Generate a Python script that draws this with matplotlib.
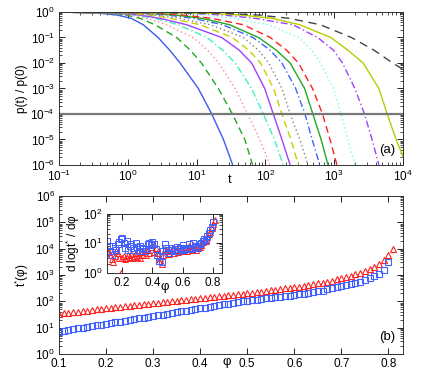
import numpy as np
import matplotlib
matplotlib.use("Agg")
import matplotlib.pyplot as plt
from matplotlib.ticker import LogLocator, NullFormatter, FixedLocator
import matplotlib.transforms as mtransforms

plt.rcParams['font.family'] = ['Liberation Sans', 'DejaVu Sans']
plt.rcParams['mathtext.fontset'] = 'custom'
plt.rcParams['mathtext.rm'] = 'Liberation Sans'
plt.rcParams['mathtext.it'] = 'Liberation Sans:italic'
plt.rcParams['font.size'] = 8.5

# ---------------- panel (a) data: log10 t at which each curve reaches the log10 p levels
logp_levels = [0, -0.05, -0.12, -0.25, -0.5, -1, -1.5, -2, -3, -4, -5, -6]
c_blue_solid   = [-1, -0.40, -0.15, 0.05, 0.225, 0.44, 0.61, 0.76, 1.025, 1.22, 1.39, 1.525]
c_green_dash   = [-1, -0.30, -0.02, 0.18, 0.395, 0.71, 0.91, 1.07, 1.316, 1.52, 1.70, 1.815]
c_pink_dot     = [-1, -0.25, 0.05, 0.28, 0.565, 0.95, 1.16, 1.32, 1.56, 1.74, 1.92, 2.067]
c_cyan_dd      = [-1, -0.20, 0.12, 0.40, 0.735, 1.15, 1.38, 1.56, 1.80, 1.97, 2.13, 2.26]
c_purple_solid = [-1, -0.15, 0.17, 0.47, 0.855, 1.365, 1.62, 1.80, 1.99, 2.115, 2.24, 2.36]
c_yellow_dash  = [-1, -0.05, 0.30, 0.62, 1.05, 1.52, 1.76, 1.93, 2.12, 2.24, 2.37, 2.48]
c_gray_dot     = [-1, 0.05, 0.40, 0.75, 1.20, 1.68, 1.90, 2.05, 2.24, 2.36, 2.50, 2.62]
c_blue_dd      = [-1, 0.20, 0.58, 0.95, 1.38, 1.82, 2.07, 2.24, 2.44, 2.575, 2.68, 2.79]
c_green_solid  = [-1, 0.30, 0.70, 1.08, 1.48, 1.90, 2.16, 2.36, 2.57, 2.69, 2.81, 2.91]
c_red_dash     = [-1, 0.40, 0.80, 1.22, 1.68, 2.07, 2.31, 2.48, 2.685, 2.83, 2.94, 3.04]
c_cyan_dot     = [-1, 0.60, 1.10, 1.55, 2.05, 2.48, 2.68, 2.80, 2.99, 3.10, 3.20, 3.30]
c_purple_dd    = [-1, 0.90, 1.40, 1.85, 2.40, 2.76, 2.99, 3.12, 3.30, 3.44, 3.55, 3.65]
c_yg_solid     = [-1, 1.20, 1.65, 2.10, 2.50, 2.95, 3.20, 3.42, 3.65, 3.77, 3.90, 4.05]
c_black_dash   = [-1, 1.40, 1.90, 2.35, 2.80, 3.25, 3.58, 3.85, 4.45]

threshold = 1e-4

curves = [
    (c_blue_solid,   '#3a5cf5', '-'),
    (c_green_dash,   '#22a822', (0, (5, 3))),
    (c_pink_dot,     '#ff8c8c', (0, (1, 2))),
    (c_cyan_dd,      '#3ef0c0', (0, (5, 2, 1, 2))),
    (c_purple_solid, '#a040ff', '-'),
    (c_yellow_dash,  '#cccc00', (0, (5, 3))),
    (c_gray_dot,     '#808080', (0, (1, 2))),
    (c_blue_dd,      '#3a66ff', (0, (5, 2, 1, 2))),
    (c_green_solid,  '#22a822', '-'),
    (c_red_dash,     '#ff2020', (0, (5, 3))),
    (c_cyan_dot,     '#70ffd8', (0, (1, 2))),
    (c_purple_dd,    '#a040ff', (0, (5, 2, 1, 2))),
    (c_yg_solid,     '#b8cc00', '-'),
    (c_black_dash,   '#444444', (0, (6, 4))),
]

# ---------------- panel (b) data
phi_red = np.round(np.arange(0.10, 0.815, 0.01), 2)
phi_blue = np.round(np.arange(0.10, 0.805, 0.01), 2)
logtstar_red = [1.52, 1.54, 1.56, 1.58, 1.61, 1.63, 1.65, 1.67, 1.69, 1.72,
                1.74, 1.76, 1.78, 1.80, 1.82, 1.83, 1.85, 1.87, 1.89, 1.91,
                1.93, 1.95, 1.97, 1.99, 2.01, 2.02, 2.04, 2.06, 2.08, 2.10,
                2.12, 2.14, 2.16, 2.17, 2.19, 2.21, 2.23, 2.25, 2.27, 2.29,
                2.31, 2.33, 2.35, 2.37, 2.40, 2.42, 2.44, 2.46, 2.49, 2.51,
                2.54, 2.56, 2.59, 2.62, 2.65, 2.68, 2.71, 2.75, 2.79, 2.83,
                2.88, 2.92, 2.97, 3.02, 3.08, 3.15, 3.23, 3.32, 3.43, 3.57,
                3.76, 4.00]
logtstar_blue = [0.85, 0.88, 0.91, 0.94, 0.97, 1.00, 1.03, 1.06, 1.09, 1.12,
                 1.14, 1.17, 1.20, 1.23, 1.26, 1.29, 1.32, 1.35, 1.38, 1.41,
                 1.44, 1.47, 1.50, 1.53, 1.56, 1.59, 1.62, 1.65, 1.68, 1.71,
                 1.73, 1.76, 1.79, 1.82, 1.85, 1.88, 1.91, 1.94, 1.97, 2.00,
                 2.02, 2.04, 2.06, 2.08, 2.11, 2.13, 2.15, 2.17, 2.19, 2.22,
                 2.24, 2.27, 2.29, 2.32, 2.35, 2.38, 2.41, 2.45, 2.49, 2.53,
                 2.57, 2.61, 2.65, 2.70, 2.75, 2.80, 2.87, 2.95, 3.05, 3.20,
                 3.50]
dlog_red = [6.5, 5.0, 4.0, 2.8, 2.3, 3.5, 5.5, 4.5, 3.0, 1.0,
            3.2, 3.5, 2.8, 3.0, 3.8, 3.3, 4.2, 3.0, 3.6, 4.5,
            3.4, 4.0, 3.2, 4.8, 3.9, 5.2, 4.0, 6.0, 4.6, 7.5,
            8.5, 5.0, 7.0, 4.5, 2.5, 3.0, 1.9, 4.0, 6.5, 5.5,
            6.0, 4.2, 5.5, 6.5, 4.5, 5.8, 6.5, 5.0, 6.0, 7.0,
            5.5, 6.2, 7.5, 5.2, 8.0, 6.8, 6.0, 8.5, 7.0, 6.0,
            8.0, 7.2, 8.5, 11, 13, 12, 16, 20, 24, 32,
            45, 60]
dlog_blue = [12, 8, 5.5, 4.0, 8, 7, 6, 9, 11, 14,
             15, 10, 7, 12, 6, 8, 9.5, 7, 6, 10,
             7.5, 5.5, 8, 6.2, 7, 5.5, 6.5, 9, 10, 8.5,
             11, 9, 6.5, 4.0, 2.5, 3.5, 2.2, 5.5, 9.5, 7,
             6, 4.5, 7, 6, 5.5, 6.5, 7.5, 5.5, 7, 6.5,
             8.5, 6, 7, 6.2, 9, 7, 6.5, 10, 7.5, 8,
             7, 9, 10, 12, 14, 13, 17, 22, 27, 36,
             50]

W, H = 436, 382
fig = plt.figure(figsize=(W / 100, H / 100), dpi=100)


def px_axes(l, t, r, b):
    return fig.add_axes([l / W, 1 - b / H, (r - l) / W, (b - t) / H])


def style(ax):
    ax.tick_params(which='both', direction='in', top=True, right=True, pad=3)
    ax.tick_params(which='major', length=4, width=0.6)
    ax.tick_params(which='minor', length=2, width=0.5)
    for s in ax.spines.values():
        s.set_linewidth(0.7)
        s.set_color('#333333')


# ---------------- panel (a)
axa = px_axes(59, 12, 403, 165)
for lt, col, ls in curves:
    n = len(lt)
    t = 10 ** np.array(lt)
    p = 10 ** np.array(logp_levels[:n], dtype=float)
    axa.plot(t, p, color=col, ls=ls, lw=1.0)
axa.axhline(threshold, color='#777777', lw=1.6)
axa.set_xscale('log')
axa.set_yscale('log')
axa.set_xlim(1e-1, 1e4)
axa.set_ylim(1e-6, 1)
axa.yaxis.set_major_locator(LogLocator(base=10, numticks=10))
axa.xaxis.set_major_locator(LogLocator(base=10, numticks=10))
axa.yaxis.set_minor_locator(LogLocator(base=10, subs=np.arange(2, 10), numticks=20))
axa.xaxis.set_minor_locator(LogLocator(base=10, subs=np.arange(2, 10), numticks=20))
axa.yaxis.set_minor_formatter(NullFormatter())
axa.xaxis.set_minor_formatter(NullFormatter())
style(axa)
axa.set_ylabel('p(t) / p(0)', labelpad=2)
tr = mtransforms.blended_transform_factory(axa.transData, axa.transAxes)
axa.text(30, -0.1, 't', transform=tr, ha='center', va='center', fontsize=9)
axa.text(0.955, 0.1, '(a)', transform=axa.transAxes, ha='center', va='center', fontsize=9.5)

# ---------------- panel (b)
axb = px_axes(59, 196, 403, 354)
axb.plot(phi_red, 10 ** np.array(logtstar_red), ls='none', marker='^', ms=5,
         mfc='none', mec='#ff2020', mew=0.8)
axb.plot(phi_blue, 10 ** np.array(logtstar_blue), ls='none', marker='s', ms=4.5,
         mfc='none', mec='#4060ff', mew=0.8)
axb.set_yscale('log')
axb.set_xlim(0.1, 0.831)
axb.set_ylim(1, 1e6)
axb.xaxis.set_major_locator(FixedLocator([0.1, 0.2, 0.3, 0.4, 0.5, 0.6, 0.7, 0.8]))
axb.set_xticklabels(['0.1', '0.2', '0.3', '0.4', '0.5', '0.6', '0.7', '0.8'])
axb.yaxis.set_major_locator(LogLocator(base=10, numticks=10))
axb.yaxis.set_minor_locator(LogLocator(base=10, subs=np.arange(2, 10), numticks=20))
axb.yaxis.set_minor_formatter(NullFormatter())
style(axb)
axb.set_ylabel('t$^{*}$(\u03c6)', labelpad=3)
trb = mtransforms.blended_transform_factory(axb.transData, axb.transAxes)
axb.text(0.457, -0.052, '\u03c6', transform=trb, ha='center', va='center', fontsize=9.5)
axb.text(0.955, 0.11, '(b)', transform=axb.transAxes, ha='center', va='center', fontsize=9.5)

# ---------------- inset
axi = px_axes(107, 213.5, 221.5, 272.5)
axi.plot(phi_red, dlog_red, ls='none', marker='^', ms=4.5, mfc='none', mec='#ff2020', mew=0.7)
axi.plot(phi_blue, dlog_blue, ls='none', marker='s', ms=4.2, mfc='none', mec='#4060ff', mew=0.7)
axi.set_yscale('log')
axi.set_xlim(0.1, 0.855)
axi.set_ylim(1, 100)
axi.xaxis.set_major_locator(FixedLocator([0.2, 0.4, 0.6, 0.8]))
axi.set_xticklabels(['0.2', '0.4', '0.6', '0.8'])
axi.yaxis.set_major_locator(LogLocator(base=10, numticks=10))
axi.yaxis.set_minor_locator(LogLocator(base=10, subs=np.arange(2, 10), numticks=20))
axi.yaxis.set_minor_formatter(NullFormatter())
style(axi)
axi.set_ylabel('d logt$^{*}$ / d\u03c6', labelpad=1)
tri = mtransforms.blended_transform_factory(axi.transData, axi.transAxes)
axi.text(0.48, -0.25, '\u03c6', transform=tri, ha='center', va='center', fontsize=9.5)

fig.savefig('out.png', dpi=100)
